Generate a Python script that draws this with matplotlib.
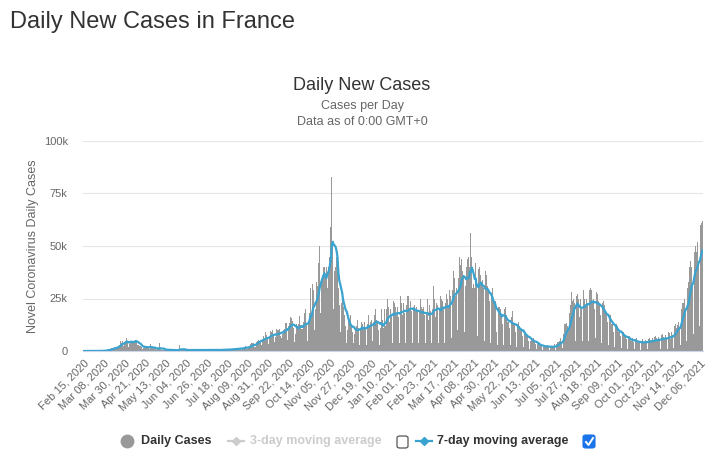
import matplotlib.pyplot as plt
from matplotlib.lines import Line2D
from matplotlib.patches import FancyBboxPatch
import pandas as pd

plt.rcParams['font.family'] = ['Liberation Sans', 'DejaVu Sans']

# Daily new cases in France (thousands), one row per week, starting Sat Feb 15, 2020
weekly_rows = [
    [0, 0, 0, 0, 0, 0, 0],
    [0, 0, 0, 0, 0, 0.02, 0.02],
    [0.04, 0.03, 0.06, 0.02, 0.07, 0.08, 0.1],
    [0.2, 0.1, 0.3, 0.37, 0.33, 0.5, 0.8],
    [0.8, 0.9, 1.2, 1.1, 1.4, 1.8, 1.6],
    [1.8, 1.6, 3.2, 2.4, 2.9, 4.9, 3.8],
    [4.6, 2.6, 4.4, 4.6, 6.2, 4.9, 1.9],
    [3.5, 5.0, 4.3, 5.3, 4.3, 4.6, 4.8],
    [4.8, 4.2, 3.0, 2.7, 2.5, 2.6, 1.8],
    [0.9, 1.6, 2.1, 2.2, 1.7, 2.4, 1.6],
    [1.3, 1.1, 3.2, 1.6, 1.4, 1.3, 1.2],
    [0.8, 0.6, 1.0, 1.1, 3.6, 0.9, 0.8],
    [0.5, 0.3, 0.4, 0.8, 0.9, 0.6, 0.7],
    [0.4, 0.3, 0.4, 0.5, 0.6, 0.5, 0.4],
    [0.3, 0.2, 0.3, 0.4, 0.5, 2.9, 0.4],
    [0.8, 0.4, 0.3, 0.4, 0.5, 0.6, 0.5],
    [0.5, 0.3, 0.3, 0.5, 0.5, 0.5, 0.5],
    [0.4, 0.3, 0.2, 0.4, 0.5, 0.5, 0.5],
    [0.4, 0.3, 0.2, 0.5, 0.5, 0.5, 0.5],
    [0.5, 0.3, 0.3, 0.6, 0.6, 0.6, 0.6],
    [0.5, 0.3, 0.3, 0.5, 0.6, 0.6, 0.6],
    [0.6, 0.3, 0.3, 0.5, 0.7, 0.7, 0.8],
    [0.7, 0.4, 0.5, 0.8, 1.0, 1.1, 1.1],
    [1.0, 0.5, 0.6, 1.2, 1.4, 1.4, 1.5],
    [1.3, 0.7, 0.8, 1.5, 1.9, 2.0, 2.2],
    [2.1, 1.0, 1.4, 2.5, 3.2, 3.6, 3.8],
    [3.6, 1.8, 1.9, 4.1, 5.0, 5.1, 7.4],
    [5.0, 4.8, 2.8, 5.4, 7.0, 6.1, 8.9],
    [7.4, 5.5, 3.1, 7.0, 9.4, 8.9, 9.8],
    [8.6, 7.1, 4.2, 6.5, 10.5, 10.0, 9.8],
    [10.6, 7.2, 6.2, 7.9, 10.0, 10.6, 13.2],
    [13.5, 10.6, 5.3, 12.0, 13.1, 16.1, 15.8],
    [14.4, 11.1, 4.1, 8.1, 13.0, 12.1, 12.8],
    [16.9, 12.6, 5.1, 10.5, 10.5, 13.9, 18.1],
    [20.0, 12.5, 5.0, 13.0, 18.0, 29.8, 17.0],
    [32, 29, 10, 20, 26, 33, 31],
    [42, 50, 18, 33, 36, 40, 40],
    [35, 40, 30, 40, 45, 57, 59],
    [83, 50, 20, 38, 40, 45, 39],
    [30, 22, 9, 23, 28, 21, 26],
    [17, 12, 4, 10, 16, 13, 17],
    [12, 9, 4, 8, 10, 12, 15],
    [12, 11, 3, 10, 14, 13, 11],
    [14, 11, 3, 13, 17, 12, 14],
    [15, 12, 5, 14, 17, 20, 15],
    [14, 10, 3, 11, 20, 15, 11],
    [20, 12, 4, 20, 25, 21, 14],
    [20, 16, 4, 24, 23, 21, 17],
    [21, 16, 4, 23, 26, 23, 17],
    [23, 18, 4, 22, 26, 26, 20],
    [24, 19, 4, 21, 27, 22, 20],
    [21, 19, 4, 19, 25, 21, 20],
    [21, 17, 4, 18, 25, 21, 15],
    [22, 19, 4, 20, 31, 25, 16],
    [23, 22, 4, 20, 26, 25, 24],
    [24, 21, 4, 23, 27, 25, 22],
    [29, 26, 6, 29, 38, 35, 26],
    [30, 30, 10, 35, 45, 41, 44],
    [38, 36, 9, 31, 40, 44, 45],
    [40, 56, 8, 45, 30, 32, 30],
    [42, 32, 7, 39, 40, 36, 32],
    [34, 30, 5, 32, 38, 36, 31],
    [28, 24, 4, 26, 30, 25, 24],
    [24, 9, 3, 21, 24, 21, 20],
    [17, 13, 3, 20, 21, 17, 14],
    [14, 11, 3, 16, 19, 15, 13],
    [13, 9, 2, 13, 14, 12, 11],
    [10, 7, 2, 8, 9, 8, 8],
    [7, 5, 1, 5, 6, 5, 6],
    [4.5, 3.5, 0.8, 3.2, 3.5, 3.5, 2.3],
    [3.0, 2.4, 0.5, 2.1, 2.6, 2.4, 2.3],
    [2.8, 2.1, 0.4, 1.9, 2.4, 2.3, 2.1],
    [3.1, 2.5, 0.7, 3.1, 4.2, 4.5, 5.0],
    [6, 4.5, 1.5, 8, 13, 13, 13.5],
    [12, 11, 4, 18, 22, 28, 24],
    [25, 23, 5, 26, 27, 25, 16],
    [25, 20, 5, 27, 29, 25, 22],
    [25, 23, 5, 29, 30, 29, 24],
    [25, 20, 6, 28, 28, 27, 24],
    [22, 17, 4, 23, 24, 22, 18],
    [17, 14, 3, 17, 17, 17, 13],
    [13, 9, 2, 12, 13, 12, 9],
    [10, 7, 1.5, 8.5, 9, 8, 7],
    [7.5, 5.5, 1, 6.5, 7, 6, 5],
    [6, 4.5, 0.8, 5.5, 6, 5, 3.7],
    [5, 4.2, 0.7, 5, 5.5, 4.5, 3.8],
    [5.4, 4.5, 0.8, 5.6, 6.4, 5.2, 4.3],
    [6, 5, 1, 6.5, 7, 6, 5],
    [6.5, 5.5, 1, 7.5, 8, 6.5, 5.6],
    [7.5, 6, 1, 8, 9, 8.5, 5.5],
    [9, 7.5, 1.5, 12, 13, 11, 12.5],
    [14, 11, 3, 20, 25, 23, 23],
    [25, 20, 5, 30, 33, 40, 43],
    [40, 31, 8, 47, 50, 50, 47],
    [52, 42, 12, 60, 61, 62],
]

daily_k = [v for row in weekly_rows for v in row]
dates = pd.date_range('2020-02-15', periods=len(daily_k), freq='D')
cases = pd.Series(daily_k, index=dates) * 1000
avg7 = cases.rolling(7, min_periods=1).mean()

y_ticks = [0, 25000, 50000, 75000, 100000]
y_tick_labels = ['0', '25k', '50k', '75k', '100k']

fig = plt.figure(figsize=(7.18, 4.62), dpi=100)
ax = fig.add_axes([83 / 718, 1 - 351 / 462, 620 / 718, 210 / 462])

x = range(len(cases))
ax.bar(x, cases.values, width=1.0, color='#999999', linewidth=0, zorder=2)
ax.plot(x, avg7.values, color='#3ba3cf', lw=1.6, zorder=3)

ax.set_xlim(-0.5, len(cases) - 0.5)
ax.set_ylim(0, 100000)
ax.set_yticks(y_ticks)
ax.set_yticklabels(y_tick_labels)
tick_pos = list(range(0, len(cases), 22))
ax.set_xticks(tick_pos)
ax.set_xticklabels([dates[i].strftime('%b %d, %Y') for i in tick_pos],
                   rotation=45, ha='right', va='top', rotation_mode='anchor')

ax.grid(axis='y', color='#e6e6e6', lw=0.8, zorder=0)
ax.set_axisbelow(True)
for side in ['top', 'right', 'left']:
    ax.spines[side].set_visible(False)
ax.spines['bottom'].set_color('#ccd6eb')
ax.tick_params(axis='both', length=0, labelsize=8, labelcolor='#666666')
ax.tick_params(axis='y', pad=11)
ax.tick_params(axis='x', pad=5)
ax.set_ylabel('Novel Coronavirus Daily Cases', fontsize=9, color='#666666', labelpad=3)

# titles
fig.text(10 / 718, 1 - 22 / 462, 'Daily New Cases in France', fontsize=17,
         color='#333333', ha='left', va='center')
fig.text(362 / 718, 1 - 86 / 462, 'Daily New Cases', fontsize=13,
         color='#333333', ha='center', va='center')
fig.text(362 / 718, 1 - 106 / 462, 'Cases per Day', fontsize=9,
         color='#666666', ha='center', va='center')
fig.text(362 / 718, 1 - 122 / 462, 'Data as of 0:00 GMT+0', fontsize=9,
         color='#666666', ha='center', va='center')

# legend
ly = 1 - 441 / 462
fig.add_artist(Line2D([127 / 718], [ly], marker='o', ms=9, color='#999999',
                      transform=fig.transFigure))
fig.text(141 / 718, ly, 'Daily Cases', fontsize=9, weight='bold',
         color='#333333', ha='left', va='center')
fig.add_artist(Line2D([228 / 718, 244 / 718], [ly, ly], lw=1.6, color='#cccccc',
                      transform=fig.transFigure))
fig.add_artist(Line2D([236 / 718], [ly], marker='D', ms=4, color='#cccccc',
                      transform=fig.transFigure))
fig.text(250 / 718, ly, '3-day moving average', fontsize=9, weight='bold',
         color='#cccccc', ha='left', va='center')
fig.add_artist(FancyBboxPatch((397 / 718, 1 - 448 / 462), 11 / 718, 12 / 462,
                              boxstyle='round,pad=0,rounding_size=0.004',
                              fc='white', ec='#555555', lw=0.9,
                              transform=fig.transFigure))
fig.add_artist(Line2D([416 / 718, 432 / 718], [ly, ly], lw=1.6, color='#3ba3cf',
                      transform=fig.transFigure))
fig.add_artist(Line2D([424 / 718], [ly], marker='D', ms=4, color='#3ba3cf',
                      transform=fig.transFigure))
fig.text(437 / 718, ly, '7-day moving average', fontsize=9, weight='bold',
         color='#333333', ha='left', va='center')
fig.add_artist(FancyBboxPatch((583 / 718, 1 - 448 / 462), 12 / 718, 13 / 462,
                              boxstyle='round,pad=0,rounding_size=0.004',
                              fc='#1a73e8', ec='#1a73e8', lw=0.8,
                              transform=fig.transFigure))
fig.add_artist(Line2D([586 / 718, 588.5 / 718, 593 / 718],
                      [1 - 442 / 462, 1 - 445 / 462, 1 - 438 / 462],
                      lw=1.4, color='white', transform=fig.transFigure))

fig.savefig('out.png', dpi=100)
